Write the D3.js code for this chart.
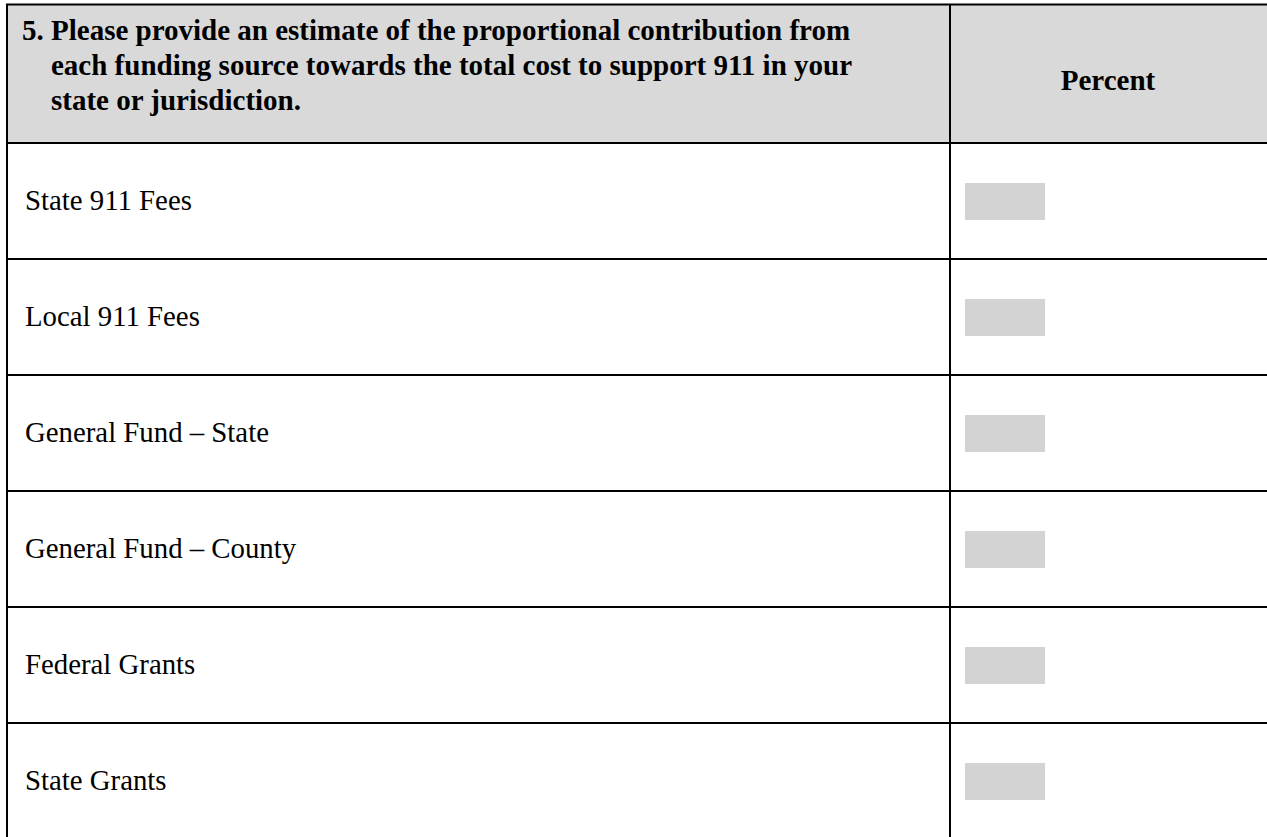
<!DOCTYPE html>
<html>
<head>
<meta charset="utf-8">
<script src="https://cdn.jsdelivr.net/npm/d3@7"></script>
<style>
  body { margin: 0; background: #fff; }
  svg { display: block; }
</style>
</head>
<body>
<div id="table"></div>
<script>
var canvasWidth = 1267;
var canvasHeight = 837;

// question text and column header
var questionNumber = "5.";
var questionLines = [
    "Please provide an estimate of the proportional contribution from",
    "each funding source towards the total cost to support 911 in your",
    "state or jurisdiction."
];
var columnHeader = "Percent";

// funding sources (rows) and their percent entries (blank on the form)
var sources = ["State 911 Fees", "Local 911 Fees", "General Fund \u2013 State",
    "General Fund \u2013 County", "Federal Grants", "State Grants"];
var percents = [null, null, null, null, null, null];

var svg = d3.select("#table")
    .append("svg")
    .attr("width", canvasWidth)
    .attr("height", canvasHeight);

var tLeft = 7, tRight = 1268, tTop = 4.5, headerBottom = 143, divider = 950;
var rowH = 116;

/*Row scale*/
var yScale = d3.scaleBand()
    .domain(sources)
    .range([headerBottom, headerBottom + rowH * sources.length]);

/*Header background*/
svg.append("rect")
    .attr("x", tLeft)
    .attr("y", tTop)
    .attr("width", tRight - tLeft)
    .attr("height", headerBottom - tTop)
    .attr("fill", "#d9d9d9");

/*Header text*/
var hdr = svg.append("g")
    .attr("font-family", "'Liberation Serif', 'Times New Roman', serif")
    .attr("font-weight", "bold")
    .attr("font-size", 29)
    .attr("fill", "#000");

hdr.append("text")
    .attr("x", 22)
    .attr("y", 40)
    .text(questionNumber);

hdr.selectAll(".qline")
    .data(questionLines)
    .join("text")
    .attr("class", "qline")
    .attr("x", 51)
    .attr("y", function(d, i) { return 40 + i * 35; })
    .text(function(d) { return d; });

hdr.append("text")
    .attr("x", (divider + 1266) / 2)
    .attr("y", 90)
    .attr("text-anchor", "middle")
    .text(columnHeader);

/*Row labels*/
svg.append("g")
    .selectAll("text")
    .data(sources)
    .join("text")
    .attr("x", 25)
    .attr("y", function(d) { return yScale(d) + 67; })
    .attr("font-family", "'Liberation Serif', 'Times New Roman', serif")
    .attr("font-size", 28.8)
    .attr("fill", "#000")
    .text(function(d) { return d; });

/*Percent entry boxes*/
svg.append("g")
    .selectAll("rect")
    .data(sources)
    .join("rect")
    .attr("x", 965)
    .attr("y", function(d) { return yScale(d) + 40; })
    .attr("width", 80)
    .attr("height", 37)
    .attr("fill", "#d3d3d3");

svg.append("g")
    .selectAll("text")
    .data(percents.map(function(v, i) { return { v: v, s: sources[i] }; }).filter(function(d) { return d.v != null; }))
    .join("text")
    .attr("x", 1005)
    .attr("y", function(d) { return yScale(d.s) + 66; })
    .attr("text-anchor", "middle")
    .attr("font-family", "'Liberation Serif', serif")
    .attr("font-size", 24)
    .text(function(d) { return d.v + "%"; });

/*Grid lines*/
var grid = svg.append("g")
    .attr("stroke", "#000")
    .attr("stroke-width", 2);

grid.append("line")
    .attr("x1", tLeft - 1).attr("x2", tRight)
    .attr("y1", tTop).attr("y2", tTop);

grid.selectAll(".hline")
    .data(sources)
    .join("line")
    .attr("class", "hline")
    .attr("x1", tLeft - 1).attr("x2", tRight)
    .attr("y1", function(d) { return yScale(d); })
    .attr("y2", function(d) { return yScale(d); });

grid.append("line")
    .attr("x1", tLeft).attr("x2", tLeft)
    .attr("y1", tTop).attr("y2", canvasHeight + 5);

grid.append("line")
    .attr("x1", divider).attr("x2", divider)
    .attr("y1", tTop).attr("y2", canvasHeight + 5);
</script>
</body>
</html>
